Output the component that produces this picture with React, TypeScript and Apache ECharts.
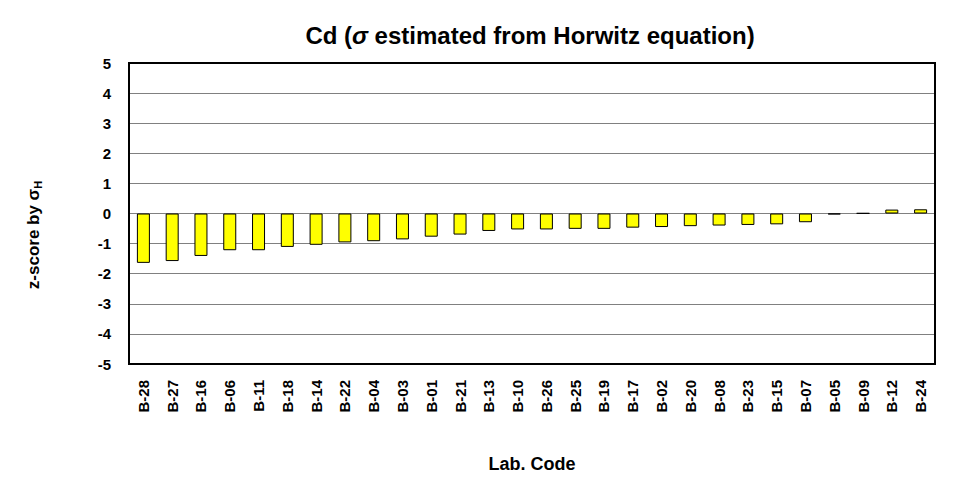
import React, { useEffect, useRef } from "react";
import * as echarts from "echarts";

const labCodes = [
  "B-28", "B-27", "B-16", "B-06", "B-11", "B-18", "B-14", "B-22", "B-04", "B-03",
  "B-01", "B-21", "B-13", "B-10", "B-26", "B-25", "B-19", "B-17", "B-02", "B-20",
  "B-08", "B-23", "B-15", "B-07", "B-05", "B-09", "B-12", "B-24",
];
const zScores = [
  -1.64, -1.58, -1.41, -1.22, -1.22, -1.11, -1.04, -0.96, -0.92, -0.86,
  -0.77, -0.7, -0.58, -0.53, -0.53, -0.51, -0.51, -0.47, -0.45, -0.42,
  -0.4, -0.38, -0.36, -0.29, -0.03, 0.01, 0.13, 0.14,
];
const yMin = -5;
const yMax = 5;
const yStep = 1;

const FONT = "'Liberation Sans', Arial, sans-serif";

export default function App() {
  const ref = useRef<HTMLDivElement>(null);
  useEffect(() => {
    if (!ref.current) return;
    const chart = echarts.init(ref.current, undefined, { renderer: "svg" });
    chart.setOption({
      animation: false,
      backgroundColor: "#ffffff",
      title: {
        text: "{n|Cd (}{i|σ}{n| estimated from Horwitz equation)}",
        left: 525,
        top: 18,
        textAlign: "center",
        textStyle: {
          rich: {
            n: { fontFamily: FONT, fontSize: 24, fontWeight: "bold", color: "#000" },
            i: { fontFamily: FONT, fontSize: 24, fontWeight: "bold", fontStyle: "italic", color: "#000" },
          },
        },
      },
      grid: { left: 129, right: 44, top: 63, bottom: 124, containLabel: false },
      xAxis: {
        type: "category",
        data: labCodes,
        name: "Lab. Code",
        nameLocation: "middle",
        nameGap: 91,
        nameTextStyle: { fontFamily: FONT, fontSize: 18, fontWeight: "bold", color: "#000" },
        axisLine: { show: false },
        axisTick: { show: false },
        axisLabel: {
          rotate: 90,
          interval: 0,
          margin: 16,
          fontFamily: FONT,
          fontSize: 15,
          fontWeight: "bold",
          color: "#000",
        },
      },
      yAxis: {
        type: "value",
        min: yMin,
        max: yMax,
        interval: yStep,
        axisLine: { show: false },
        axisTick: { show: false },
        axisLabel: {
          margin: 18,
          fontFamily: FONT,
          fontSize: 15,
          fontWeight: "bold",
          color: "#000",
        },
        splitLine: { show: true, lineStyle: { color: "#808080", width: 1 } },
      },
      graphic: [
        {
          type: "rect",
          shape: { x: 129, y: 63, width: 806, height: 301 },
          style: { fill: "none", stroke: "#000", lineWidth: 2 },
          z: 10,
        },
        {
          type: "text",
          x: 33,
          y: 235,
          rotation: Math.PI / 2,
          style: {
            text: "{n|z-score by σ}{s|H}",
            align: "center",
            verticalAlign: "middle",
            rich: {
              n: { fontFamily: FONT, fontSize: 17, fontWeight: "bold", fill: "#000", lineHeight: 20, verticalAlign: "middle" },
              s: { fontFamily: FONT, fontSize: 11, fontWeight: "bold", fill: "#000", lineHeight: 20, verticalAlign: "bottom", padding: [8, 0, 0, 0] },
            },
          },
        },
      ],
      series: [
        {
          type: "bar",
          data: zScores,
          barWidth: 13,
          itemStyle: { color: "#ffff00", borderColor: "#000", borderWidth: 1 },
        },
      ],
    });
    return () => chart.dispose();
  }, []);
  return (
    <div
      ref={ref}
      style={{ position: "fixed", left: 0, top: 0, width: 979, height: 488 }}
    />
  );
}
